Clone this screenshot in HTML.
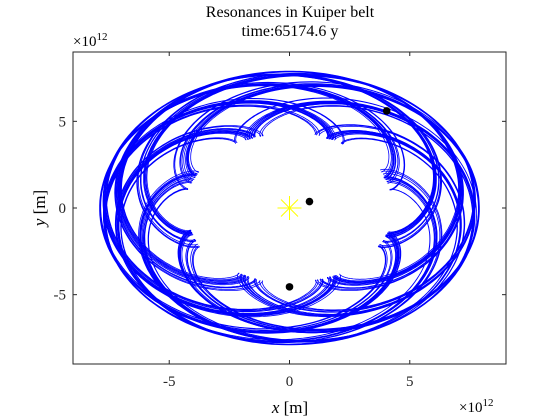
<!DOCTYPE html>
<html><head><meta charset="utf-8"><style>
body{margin:0;background:#fff;}
svg{display:block;font-family:"Liberation Serif",serif;}
</style></head><body>
<svg width="560" height="420" viewBox="0 0 560 420">
<rect x="0" y="0" width="560" height="420" fill="#fff"/>
<text x="290" y="17" text-anchor="middle" font-size="16">Resonances in Kuiper belt</text>
<text x="290" y="36" text-anchor="middle" font-size="16">time:65174.6 y</text>
<text x="73" y="46" font-size="15">×10<tspan font-size="11" dy="-6">12</tspan></text>
<text x="459" y="412" font-size="15">×10<tspan font-size="11" dy="-6">12</tspan></text>
<text x="290" y="413" text-anchor="middle" font-size="17"><tspan font-style="italic">x</tspan> [m]</text>
<text transform="translate(45,208) rotate(-90)" text-anchor="middle" font-size="17"><tspan font-style="italic">y</tspan> [m]</text>
<g id="plot"></g>
<g id="ticks"></g>
<rect x="73" y="52" width="433" height="312" fill="none" stroke="#262626" stroke-width="1"/>
</svg>
<script>
// axis limits (units of 1e12 m)
const xLimits = [-9, 9];
const yLimits = [-9, 9];
const xTicks = [-5, 0, 5];
const yTicks = [-5, 0, 5];
const tickLabels = ["-5", "0", "5"];
// orbit parameters: semi-major axis, eccentricity, frame/mean-motion ratio, perihelion angle (deg), libration amplitude (deg)
const orbitA = [6.1, 6.13, 6.08];
const orbitE = [0.29, 0.288, 0.292];
const frameRatio = [15/8, 15/8, 15/8];
const periAngle = [22, 25, 19];
const librationAmp = [4, 6, 5];
// bodies
const bodyX = [0.83, 4.04, 0.0];
const bodyY = [0.37, 5.6, -4.55];
const sunX = [0]; const sunY = [0];

const L=73,R=506,T=52,B=364;
const sx=v=>L+(v-xLimits[0])/(xLimits[1]-xLimits[0])*(R-L);
const sy=v=>B-(v-yLimits[0])/(yLimits[1]-yLimits[0])*(B-T);
const NS="http://www.w3.org/2000/svg";
const plot=document.getElementById('plot');
const ticks=document.getElementById('ticks');

function mk(tag,attrs,parent){const e=document.createElementNS(NS,tag);for(const k in attrs)e.setAttribute(k,attrs[k]);parent.appendChild(e);return e;}

for(let k=0;k<orbitA.length;k++){
  const a=orbitA[k],e=orbitE[k],w=frameRatio[k];
  let d="";const orbits=40,per=240;
  for(let i=0;i<=orbits*per;i++){
    const M=2*Math.PI*i/per;
    let E=M;for(let j=0;j<8;j++)E=E-(E-e*Math.sin(E)-M)/(1-e*Math.cos(E));
    const r=a*(1-e*Math.cos(E));
    const f=2*Math.atan2(Math.sqrt(1+e)*Math.sin(E/2),Math.sqrt(1-e)*Math.cos(E/2));
    const lib=librationAmp[k]*Math.PI/180*Math.sin(M/(2*Math.PI)*0.37+k);
    // rotating-frame angle: true anomaly minus frame rotation
    const ang=periAngle[k]*Math.PI/180+lib+f-w*M;
    const x=r*Math.cos(ang),y=r*Math.sin(ang);
    d+=(i?"L":"M")+sx(x).toFixed(1)+" "+sy(y).toFixed(1);
  }
  const p=mk('path',{d:d,fill:"none",stroke:"#0000ff","stroke-width":"0.8"},plot);
  
  
}
// sun
for(let i=0;i<sunX.length;i++){
  const cx=sx(sunX[i]),cy=sy(sunY[i]);
  for(let j=0;j<4;j++){
    const an=j*Math.PI/4,dx=12*Math.cos(an),dy=12*Math.sin(an);
    const l=mk('line',{x1:cx-dx,y1:cy-dy,x2:cx+dx,y2:cy+dy,stroke:"#ffff00","stroke-width":"1"},plot);
    
    
  }
}
for(let i=0;i<bodyX.length;i++){
  const c=mk('circle',{cx:sx(bodyX[i]),cy:sy(bodyY[i]),r:3.8,fill:"#000"},plot);
  
  
}
xTicks.forEach((v,i)=>{
  const x=sx(v);
  const t1=mk('line',{x1:x,y1:B,x2:x,y2:B-4,stroke:"#262626"},ticks);
  
  
  const t2=mk('line',{x1:x,y1:T,x2:x,y2:T+4,stroke:"#262626"},ticks);
  
  
  const tx=mk('text',{x:x,y:B+22,"text-anchor":"middle","font-size":"15",fill:"#262626"},ticks);
  tx.textContent=tickLabels[i];
  
  
});
yTicks.forEach((v,i)=>{
  const y=sy(v);
  const t1=mk('line',{x1:L,y1:y,x2:L+4,y2:y,stroke:"#262626"},ticks);
  
  
  const t2=mk('line',{x1:R,y1:y,x2:R-4,y2:y,stroke:"#262626"},ticks);
  
  
  const tx=mk('text',{x:L-7,y:y+5,"text-anchor":"end","font-size":"15",fill:"#262626"},ticks);
  tx.textContent=tickLabels[i];
  
  
});
</script>
</body></html>
